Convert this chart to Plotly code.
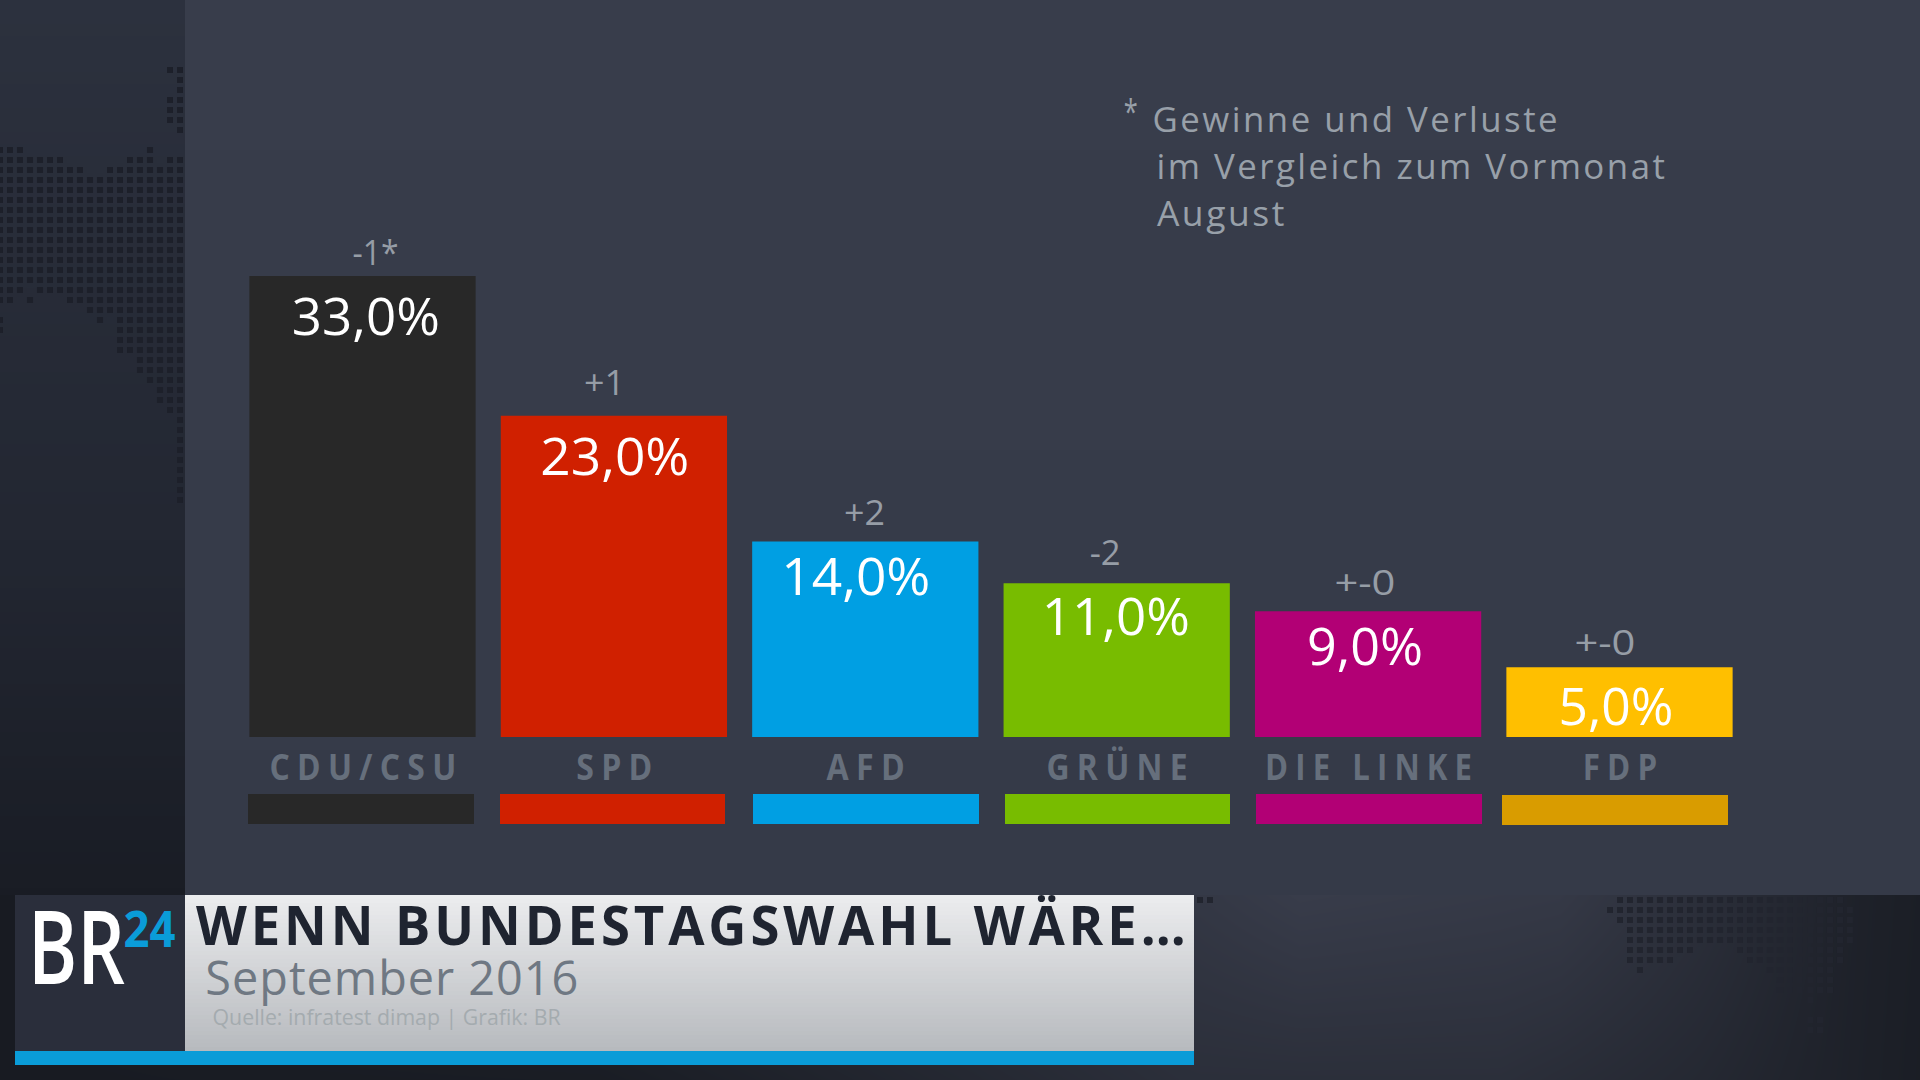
import json
import plotly.graph_objects as go

# ---------- data ----------
parties = ["CDU/CSU", "SPD", "AFD", "GRÜNE", "DIE LINKE", "FDP"]
shares = [33.0, 23.0, 14.0, 11.0, 9.0, 5.0]
changes = ["-1*", "+1", "+2", "-2", "+-0", "+-0"]
colors = ["#282828", "#d02000", "#009fe3", "#78bc00", "#b20075", "#ffbf00"]
strip_colors = ["#282828", "#d02000", "#009fe3", "#78bc00", "#b20075", "#d99c00"]

W, H = 1920, 1080
px = lambda x: x / W
py = lambda y: 1 - y / H


def hex2(c):
    return [int(c[i:i + 2], 16) for i in (1, 3, 5)]


def ramp(stops, t):
    for (a, ca), (b, cb) in zip(stops, stops[1:]):
        if t <= b:
            f = (t - a) / (b - a) if b > a else 0
            return [u + (v - u) * f for u, v in zip(hex2(ca), hex2(cb))]
    return hex2(stops[-1][1])


def css(rgb):
    return "rgb(%d,%d,%d)" % tuple(round(v) for v in rgb)


shapes = []


def rect(x0, y0, x1, y1, color, layer="below"):
    shapes.append(dict(type="rect", xref="paper", yref="paper", x0=px(x0), x1=px(x1),
                       y0=py(y1), y1=py(y0), fillcolor=color, line=dict(width=0), layer=layer))


def vgrad(x0, y0, x1, y1, stops, step, layer="below"):
    y = y0
    while y < y1:
        rect(x0, y, x1, y1, css(ramp(stops, y)), layer)
        y += step


# ---------- backdrop ----------
vgrad(185, 0, W, 895, [(0, "#383d4b"), (895, "#353a48")], 30)
vgrad(0, 0, 185, 895, [(0, "#2c313e"), (560, "#222631"), (895, "#191c24")], 12)

# bottom strip glow, as brightness between the two colours of the scale below
strip_scale = [[0, "#181b22"], [1, "#383c4a"]]
top_glow = [(0, 0), (1190, .85), (1300, 1), (1560, .9), (1720, .55), (1850, .2), (1920, .1)]
bot_glow = [(0, 0), (600, .05), (1190, .6), (1500, .6), (1700, .4), (1920, .08)]


def glow(stops, x):
    for (a, u), (b, v) in zip(stops, stops[1:]):
        if x <= b:
            return u + (v - u) * (x - a) / (b - a)
    return stops[-1][1]


glow_x = list(range(0, 1921, 20))
glow_y = list(range(895, 1081, 15)) + [1080]
glow_z = [[glow(top_glow, x) + (glow(bot_glow, x) - glow(top_glow, x)) * (y - 895) / 185 for x in glow_x]
          for y in glow_y]

# dotted world-map texture: rows of (y, [(from_x, to_x), ...]) on a 10 px grid
left_rows = [(70, [(170, 180)]), (80, [(180, 180)]), (90, [(180, 180)]), (100, [(170, 180)]),
             (110, [(170, 180)]), (120, [(170, 180)]), (130, [(180, 180)]),
             (150, [(0, 20), (150, 150)]), (160, [(0, 60), (130, 150), (170, 180)]),
             (170, [(0, 80), (110, 180)])] + [(y, [(0, 180)]) for y in range(180, 290, 10)] + [
    (290, [(0, 20), (40, 180)]), (300, [(0, 10), (30, 30), (70, 180)]), (310, [(90, 180)]),
    (320, [(0, 0), (100, 100), (120, 180)]), (330, [(0, 0), (120, 180)]), (340, [(120, 180)]),
    (350, [(120, 180)]), (360, [(140, 180)]), (370, [(140, 180)]), (380, [(150, 180)]),
    (390, [(160, 180)]), (400, [(160, 180)]), (410, [(170, 180)])] + [
    (y, [(180, 180)]) for y in range(420, 510, 10)]
right_rows = [(900, [(1200, 1210), (1620, 1840)]), (910, [(1610, 1850)]), (920, [(1620, 1850)]),
              (930, [(1630, 1850)]), (940, [(1630, 1850)]), (950, [(1630, 1690), (1740, 1840)]),
              (960, [(1630, 1670), (1750, 1840)]), (970, [(1640, 1640), (1770, 1830)]),
              (980, [(1780, 1830)]), (990, [(1780, 1830)]), (1000, [(1810, 1810)]),
              (1020, [(1810, 1820)]), (1030, [(1810, 1820)])]


def dots(rows, color):
    d = []
    for y, spans in rows:
        for a, b in spans:
            for x in range(a, b + 1, 10):
                d.append("M%.5f,%.5f H%.5f V%.5f H%.5f Z" % (px(x - 3), py(y - 3), px(x + 3), py(y + 3), px(x - 3)))
    shapes.append(dict(type="path", xref="paper", yref="paper", path=" ".join(d),
                       fillcolor=color, line=dict(width=0), layer="above"))


dots(left_rows, "#1d202a")
dots(right_rows, "#22252f")

# ---------- banner ----------
rect(15, 895, 185, 1051, "#2a2e3b", "above")
vgrad(185, 895, 1194, 1051, [(895, "#ebecee"), (1051, "#b6b9bd")], 4, "above")
rect(15, 1051, 1194, 1065, "#0a9cd8", "above")

# colour strips under the labels
strips = [(248, 474, 794, 824), (500, 725, 794, 824), (753, 979, 794, 824),
          (1005, 1230, 794, 824), (1256, 1482, 794, 824), (1502, 1728, 795, 825)]
for (x0, x1, y0, y1), c in zip(strips, strip_colors):
    rect(x0, y0, x1, y1, c, "above")

# ---------- texts ----------
annots = []
fit = {}
OS = "Open Sans"


def label(text, cx, base, size, color, width, spacing=0, weight=400):
    # Open Sans line box: centre sits about .388 em above the baseline
    annots.append(dict(text=text, xref="paper", yref="paper", x=px(cx),
                       y=py(base - 0.388 * size), xanchor="center", yanchor="middle",
                       showarrow=False, font=dict(family=OS, size=size, color=color, weight=weight)))
    fit[text] = [width + spacing, spacing]


value_pos = [(366, 334.5, 148), (615, 475, 149), (855.5, 595, 149),
             (1116, 635, 148), (1365, 665, 116), (1616, 725, 115)]
change_pos = [(375, 265, 46), (604.6, 395, 41), (864.5, 525, 41),
              (1104.7, 565, 31), (1364.7, 595, 61), (1604.7, 655, 61)]
for v, (cx, base, w) in zip(shares, value_pos):
    label(f"{v:.1f}".replace(".", ",") + "%", cx, base, 52, "#ffffff", w)
for t, (cx, base, w) in zip(changes, change_pos):
    label(t, cx, base, 34, "#969da6", w)

label("*", 1130.5, 124, 35, "#98a0a9", 14)
label("Gewinne und Verluste", 1355, 131.7, 35, "#98a0a9", 405, 2.5)
label("im Vergleich zum Vormonat", 1410.5, 179.3, 35, "#98a0a9", 508.5, 2.5)
label("August", 1220, 226, 35, "#98a0a9", 127.5, 2.5)

label("WENN BUNDESTAGSWAHL WÄRE…", 690.4, 945, 54, "#1f2430", 989.6, 4, 700)
label("September 2016", 391.5, 995, 47, "#6f7883", 373, 1)
label("Quelle: infratest dimap | Grafik: BR", 386.5, 1025, 21, "#a4abaf", 348)
label("BR", 76, 984, 101, "#ffffff", 97, 0, 600)
label("24", 149, 947, 50, "#0a9cd8", 52, 0, 700)

for name, w in zip(parties, [186, 75.5, 77.6, 140.6, 206, 73.7]):
    fit[name] = [w + 8, 8]

# ---------- figure ----------
fig = go.Figure()
fig.add_trace(go.Bar(x=parties, y=shares, marker=dict(color=colors, line=dict(width=0)),
                     hoverinfo="skip", width=0.9))
fig.add_trace(go.Heatmap(x=glow_x, y=glow_y, z=glow_z, zmin=0, zmax=1, colorscale=strip_scale,
                         zsmooth="best", showscale=False, hoverinfo="skip", xaxis="x2", yaxis="y2"))
fig.update_layout(
    width=W, height=H, autosize=False, showlegend=False,
    margin=dict(l=0, r=0, t=0, b=0, pad=0),
    paper_bgcolor="#181b22", plot_bgcolor="rgba(0,0,0,0)",
    shapes=shapes, annotations=annots, bargap=0.1,
    xaxis=dict(domain=[px(236.8), px(1745.2)], type="category", range=[-0.5, 5.5],
               showgrid=False, zeroline=False, showline=False, ticks="",
               tickfont=dict(family=OS, size=35, color="#666f7c", weight=700),
               ticklabelstandoff=7, tickangle=0),
    yaxis=dict(domain=[py(737), py(737 - 35 * 13.97)], range=[0, 35], visible=False),
    xaxis2=dict(domain=[0, 1], range=[0, 1920], visible=False, anchor="y2"),
    yaxis2=dict(domain=[0, py(895)], range=[1080, 895], visible=False, anchor="x2"),
)

post = """
document.body.style.margin='0';
document.documentElement.style.overflow='hidden';
var fit=%s;
document.querySelectorAll('svg text').forEach(function(el){
  var f=fit[el.textContent];
  if(!f) return;
  if(f[1]){ el.style.letterSpacing=f[1]+'px'; el.setAttribute('dx',f[1]/2); }
  el.setAttribute('textLength',f[0]);
  el.setAttribute('lengthAdjust','spacingAndGlyphs');
});
""" % json.dumps(fit, ensure_ascii=False)

fig.write_html("out.html", config=dict(displayModeBar=False, staticPlot=True), post_script=post)
